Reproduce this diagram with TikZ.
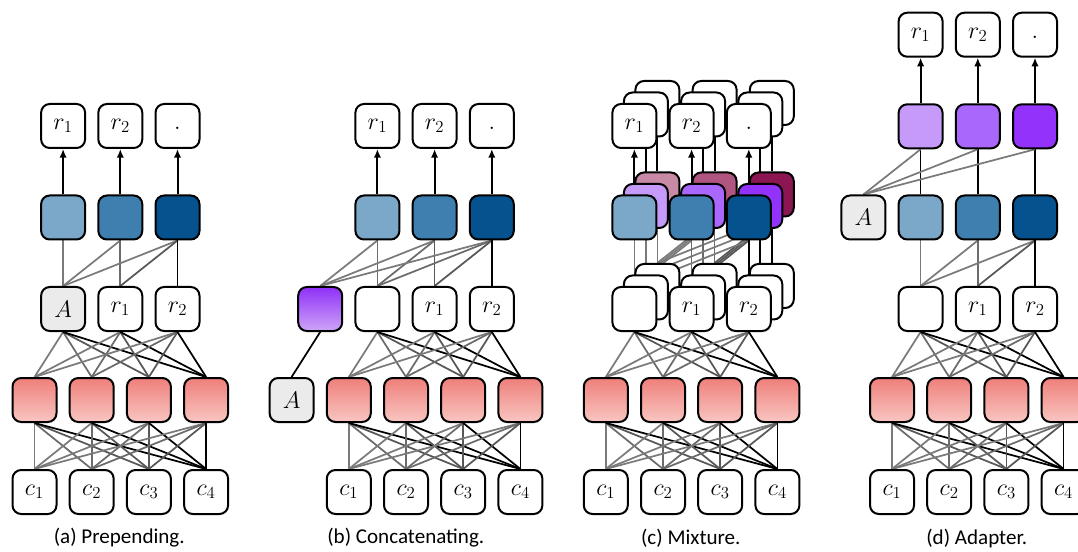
\RequirePackage{fix-cm}
\documentclass[tikz,border=0pt]{standalone}
\usepackage{fontspec}
\newfontfamily\capfont{Carlito}
\usetikzlibrary{arrows.meta}
\pgfdeclarelayer{bg}
\pgfsetlayers{bg,main}
\definecolor{blueA}{HTML}{7BA7C8}
\definecolor{blueB}{HTML}{3F7FAF}
\definecolor{blueC}{HTML}{05528F}
\definecolor{purA}{HTML}{C69AF9}
\definecolor{purB}{HTML}{A968FB}
\definecolor{purC}{HTML}{9232FA}
\definecolor{marA}{HTML}{C98AA8}
\definecolor{marB}{HTML}{B05580}
\definecolor{marC}{HTML}{8C1651}
\definecolor{redT}{HTML}{EF7F7A}
\definecolor{redB}{HTML}{F8C6C2}
\definecolor{purT}{HTML}{9030F8}
\definecolor{purBot}{HTML}{CDA5F8}
\definecolor{agray}{HTML}{EBEBEB}
\def\gap{57.2}
\newcommand\dotlbl{$\vphantom{r_1}.$}
\tikzset{
  box/.style={draw, line width=1.5pt, rounded corners=6.5pt, minimum width=33pt,
    minimum height=33pt, inner sep=0pt, fill=white, font=\fontsize{18}{21}\selectfont},
  redbox/.style={box, top color=redT, bottom color=redB},
  purbox/.style={box, top color=purT, bottom color=purBot},
  lnA/.style={line width=1.3pt, draw=black!52},
  lnB/.style={line width=1.3pt, draw=black!58},
  lnC/.style={line width=1.3pt, draw=black!66},
  lnK/.style={line width=1.3pt, draw=black},
  arr/.style={line width=1.5pt, -{Latex[length=6.5pt,width=5.5pt]}},
  lbl/.style={font=\fontsize{18}{21}\selectfont},
  captext/.style={font=\capfont\fontsize{15.8}{18}\selectfont}
}
\newcommand\lowerpart[2]{%
  \foreach \i in {1,...,4}{
    \node[redbox] (#1e\i) at ({#2+\gap*(\i-1)},400) {};
    \node[box] (#1c\i) at ({#2+\gap*(\i-1)},492) {$c_{\i}$};
  }
  \begin{pgfonlayer}{bg}
  \foreach \i in {1,...,4}{\foreach \j/\st in {1/lnA,2/lnB,3/lnC,4/lnK}{
    \draw[\st] (#1e\i.south) -- (#1c\j.north);}}
  \end{pgfonlayer}
}
\newcommand\midedges[1]{%
  \begin{pgfonlayer}{bg}
  \foreach \i in {0,1,2}{\foreach \j/\st in {1/lnA,2/lnB,3/lnC,4/lnK}{
    \draw[\st] (#1m\i.south) -- (#1e\j.north);}}
  \end{pgfonlayer}
}
\begin{document}
\begin{tikzpicture}[x=0.75pt,y=-0.75pt]
\useasboundingbox (0,0) rectangle (1078,552);

% ---------------- (a) Prepending
\lowerpart{a}{34.5}
\node[box,fill=agray] (am0) at (63.1,309) {$A$};
\node[box] (am1) at (120.3,309) {$r_1$};
\node[box] (am2) at (177.5,309) {$r_2$};
\midedges{a}
\node[box,fill=blueA] (ah1) at (63.1,217.5) {};
\node[box,fill=blueB] (ah2) at (120.3,217.5) {};
\node[box,fill=blueC] (ah3) at (177.5,217.5) {};
\node[box] (ao1) at (63.1,126) {$r_1$};
\node[box] (ao2) at (120.3,126) {$r_2$};
\node[box] (ao3) at (177.5,126) {\dotlbl};
\begin{pgfonlayer}{bg}
\draw[lnA] (ah1.south) -- (am0.north);
\draw[lnA] (ah2.south) -- (am0.north);
\draw[lnB] (ah2.south) -- (am1.north);
\draw[lnA] (ah3.south) -- (am0.north);
\draw[lnC] (ah3.south) -- (am1.north);
\draw[lnK] (ah3.south) -- (am2.north);
\foreach \k in {1,2,3}{\draw[arr] (ah\k.north) -- (ao\k.south);}
\end{pgfonlayer}
\node[captext] (capa) at (119.3,538) {(a) Prepending.};

% ---------------- (b) Concatenating
\lowerpart{b}{348.8}
\node[box,fill=agray] (bA) at (291.6,400) {$A$};
\node[purbox] (bp) at (320.2,309) {};
\node[box] (bm0) at (377.4,309) {};
\node[box] (bm1) at (434.6,309) {$r_1$};
\node[box] (bm2) at (491.8,309) {$r_2$};
\midedges{b}
\node[box,fill=blueA] (bh1) at (377.4,217.5) {};
\node[box,fill=blueB] (bh2) at (434.6,217.5) {};
\node[box,fill=blueC] (bh3) at (491.8,217.5) {};
\node[box] (bo1) at (377.4,126) {$r_1$};
\node[box] (bo2) at (434.6,126) {$r_2$};
\node[box] (bo3) at (491.8,126) {\dotlbl};
\begin{pgfonlayer}{bg}
\draw[lnK] (bp.south) -- (bA.north);
\draw[lnA] (bh1.south) -- (bp.north);
\draw[lnB] (bh1.south) -- (bm0.north);
\draw[lnA] (bh2.south) -- (bp.north);
\draw[lnB] (bh2.south) -- (bm0.north);
\draw[lnC] (bh2.south) -- (bm1.north);
\draw[lnA] (bh3.south) -- (bp.north);
\draw[lnB] (bh3.south) -- (bm0.north);
\draw[lnC] (bh3.south) -- (bm1.north);
\draw[lnK] (bh3.south) -- (bm2.north);
\foreach \k in {1,2,3}{\draw[arr] (bh\k.north) -- (bo\k.south);}
\end{pgfonlayer}
\node[captext] (capb) at (405.8,538) {(b) Concatenating.};

% ---------------- (c) Mixture
\lowerpart{c}{605.8}
\foreach \k/\pre in {2/mar,1/pur,0/blue}{
  \pgfmathsetmacro\dd{11.5*\k}
  \foreach \i/\l in {0/A,1/B,2/C}{
    \pgfmathsetmacro\xx{605.8+\gap*(\i+0.5)+\dd}
    \node[box] (cm\k-\i) at (\xx,309-\dd) {};
    \node[box,fill=\pre\l] (ch\k-\i) at (\xx,217.5-\dd) {};
    \node[box] (co\k-\i) at (\xx,126-\dd) {};
  }
  \begin{pgfonlayer}{bg}
  \draw[lnA] (ch\k-0.south) -- (cm\k-0.north);
  \draw[lnA] (ch\k-1.south) -- (cm\k-0.north);
  \draw[lnB] (ch\k-1.south) -- (cm\k-1.north);
  \draw[lnA] (ch\k-2.south) -- (cm\k-0.north);
  \draw[lnC] (ch\k-2.south) -- (cm\k-1.north);
  \draw[lnK] (ch\k-2.south) -- (cm\k-2.north);
  \foreach \i in {0,1,2}{\draw[arr] (ch\k-\i.north) -- (co\k-\i.south);}
  \end{pgfonlayer}
}
\node[lbl] (ct1) at (cm0-1) {$r_1$};
\node[lbl] (ct2) at (cm0-2) {$r_2$};
\node[lbl] (ct3) at (co0-0) {$r_1$};
\node[lbl] (ct4) at (co0-1) {$r_2$};
\node[lbl] (ct5) at (co0-2) {\dotlbl};
\begin{pgfonlayer}{bg}
\foreach \i in {0,1,2}{\foreach \j/\st in {1/lnA,2/lnB,3/lnC,4/lnK}{
  \draw[\st] (cm0-\i.south) -- (ce\j.north);}}
\end{pgfonlayer}
\node[captext] (capc) at (690.8,538) {(c) Mixture.};

% ---------------- (d) Adapter
\lowerpart{d}{892}
\node[box] (dm0) at (920.6,309) {};
\node[box] (dm1) at (977.8,309) {$r_1$};
\node[box] (dm2) at (1035,309) {$r_2$};
\midedges{d}
\node[box,fill=agray] (dA) at (863.4,217.5) {$A$};
\node[box,fill=blueA] (dh1) at (920.6,217.5) {};
\node[box,fill=blueB] (dh2) at (977.8,217.5) {};
\node[box,fill=blueC] (dh3) at (1035,217.5) {};
\node[box,fill=purA] (dq1) at (920.6,126.3) {};
\node[box,fill=purB] (dq2) at (977.8,126.3) {};
\node[box,fill=purC] (dq3) at (1035,126.3) {};
\node[box] (do1) at (920.6,34.7) {$r_1$};
\node[box] (do2) at (977.8,34.7) {$r_2$};
\node[box] (do3) at (1035,34.7) {\dotlbl};
\begin{pgfonlayer}{bg}
\draw[lnA] (dh1.south) -- (dm0.north);
\draw[lnA] (dh2.south) -- (dm0.north);
\draw[lnB] (dh2.south) -- (dm1.north);
\draw[lnA] (dh3.south) -- (dm0.north);
\draw[lnC] (dh3.south) -- (dm1.north);
\draw[lnK] (dh3.south) -- (dm2.north);
\foreach \k in {1,2,3}{
  \draw[lnK] (dh\k.north) -- (dq\k.south);
  \draw[lnA] (dA.north) -- (dq\k.south);
  \draw[arr] (dq\k.north) -- (do\k.south);}
\end{pgfonlayer}
\node[captext] (capd) at (976.7,538) {(d) Adapter.};
\end{tikzpicture}
\end{document}
